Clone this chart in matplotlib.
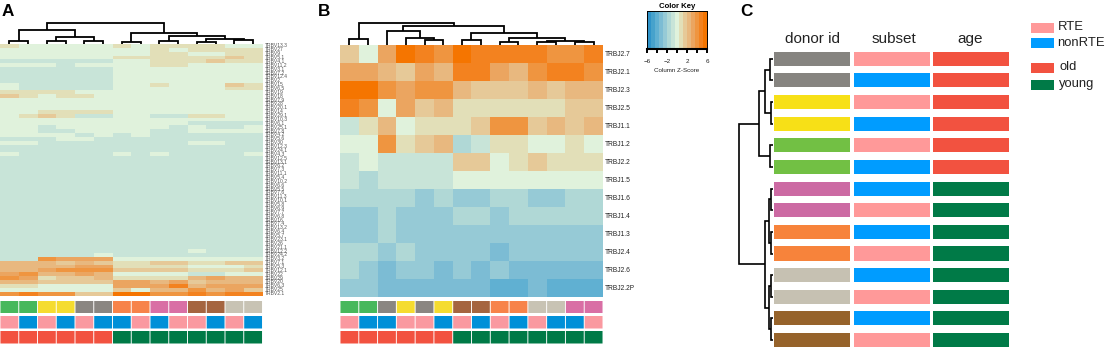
import numpy as np
from matplotlib import pyplot as plt
from matplotlib.colors import ListedColormap
from matplotlib.patches import Rectangle

plt.rcParams['font.family'] = ['Liberation Sans', 'DejaVu Sans']

W, H = 1106, 347

# colour levels of the key, low to high (one level = 0.8 z-score)
key_colors = ['#2f93c9', '#47a2cc', '#60b0d2', '#7cbcd4', '#96cad6', '#b0d8d6', '#c8e4d8', '#e0f2dc',
              '#e2dfb8', '#e6c998', '#e8b87f', '#eba560', '#ef9540', '#f3821f', '#f57500']
key_levels = list(range(-7, 8))
key_ticks = [-6, -4, -2, 0, 2, 4, 6]
key_ticklabels = ['\u22126', '', '\u22122', '', '2', '', '6']

donor_a = ['green', 'green', 'yellow', 'yellow', 'gray', 'gray', 'orange', 'orange', 'magenta', 'magenta', 'brown', 'brown', 'beige', 'beige']
subset_a = ['RTE', 'nonRTE', 'RTE', 'nonRTE', 'RTE', 'nonRTE', 'nonRTE', 'RTE', 'nonRTE', 'RTE', 'RTE', 'nonRTE', 'RTE', 'nonRTE']
donor_b = ['green', 'green', 'gray', 'yellow', 'gray', 'yellow', 'brown', 'brown', 'orange', 'orange', 'beige', 'beige', 'magenta', 'magenta']
subset_b = ['RTE', 'nonRTE', 'nonRTE', 'RTE', 'RTE', 'nonRTE', 'RTE', 'nonRTE', 'RTE', 'nonRTE', 'RTE', 'nonRTE', 'nonRTE', 'RTE']
age_ab = ['old'] * 6 + ['young'] * 8

donor_c = ['gray', 'gray', 'yellow', 'yellow', 'green', 'green', 'magenta', 'magenta', 'orange', 'orange', 'beige', 'beige', 'brown', 'brown']
subset_c = ['RTE', 'nonRTE', 'RTE', 'nonRTE', 'RTE', 'nonRTE', 'nonRTE', 'RTE', 'nonRTE', 'RTE', 'nonRTE', 'RTE', 'nonRTE', 'RTE']
age_c = ['old'] * 6 + ['young'] * 8
columns_c = ['donor id', 'subset', 'age']

donor_colors_ab = {'green': '#47b85c', 'yellow': '#f5dc30', 'gray': '#8a8682', 'orange': '#f7834a',
                   'magenta': '#d96fa5', 'brown': '#a56540', 'beige': '#c8c3b4'}
donor_colors_c = {'green': '#72c044', 'yellow': '#f7e017', 'gray': '#868480', 'orange': '#f7833b',
                  'magenta': '#cc6aa3', 'brown': '#96632b', 'beige': '#c6c1b2'}
subset_colors_ab = {'RTE': '#fa99a0', 'nonRTE': '#0090d8'}
subset_colors_c = {'RTE': '#ff9999', 'nonRTE': '#009cff'}
age_colors = {'old': '#f25240', 'young': '#007a47'}

# panel B
labels_b = ['TRBJ2.7', 'TRBJ2.1', 'TRBJ2.3', 'TRBJ2.5', 'TRBJ1.1', 'TRBJ1.2', 'TRBJ2.2', 'TRBJ1.5',
            'TRBJ1.6', 'TRBJ1.4', 'TRBJ1.3', 'TRBJ2.4', 'TRBJ2.6', 'TRBJ2.2P']
levels_b = [
    [2, 0, 4, 7, 6, 5, 7, 6, 6, 6, 6, 5, 5, 6],
    [4, 4, 3, 2, 4, 3, 6, 6, 4, 3, 5, 6, 6, 5],
    [7, 7, 5, 4, 5, 5, 3, 2, 2, 2, 3, 2, 3, 3],
    [6, 5, 0, 4, 2, 3, 1, 1, 1, 1, 1, 1, 2, 2],
    [-1, 1, 3, 0, 1, 1, 1, 2, 5, 5, 2, 3, 2, 3],
    [0, 0, 5, 1, 2, 3, -2, -1, 1, 1, 0, 0, 1, 0],
    [-1, 0, -1, -1, -1, -1, 2, 2, 0, 1, 2, 1, 1, 1],
    [-1, -2, -1, -1, -1, -1, 0, 0, 0, 0, 0, 0, 0, 0],
    [-2, -2, -2, -2, -3, -2, -3, -3, -2, -2, -3, -3, -2, -2],
    [-3, -3, -2, -3, -3, -3, -2, -2, -3, -2, -2, -2, -2, -2],
    [-3, -3, -2, -3, -3, -3, -3, -3, -3, -3, -3, -3, -3, -3],
    [-2, -2, -3, -2, -3, -3, -3, -3, -4, -3, -3, -3, -3, -3],
    [-2, -3, -4, -3, -3, -4, -3, -4, -3, -4, -4, -4, -4, -4],
    [-3, -3, -4, -4, -4, -4, -4, -4, -5, -5, -4, -5, -5, -5],
]

# panel A
labels_a = ['TRBV13.3', 'TRBV27', 'TRBV9', 'TRBV5.1', 'TRBV4.1', 'TRBV11.2', 'TRBV3.1', 'TRBV7.2', 'TRBV12.4', 'TRBV2',
            'TRBV15', 'TRBV6.5', 'TRBV19', 'TRBV18', 'TRBV7.9', 'TRBV28', 'TRBV20.1', 'TRBV14', 'TRBV29.1', 'TRBV10.3',
            'TRBV6.1', 'TRBV25.1', 'TRBV7.8', 'TRBV4.2', 'TRBV5.6', 'TRBV30', 'TRBV12.3', 'TRBV24.1', 'TRBV4.3', 'TRBV12.5',
            'TRBV13.1', 'TRBV6.2', 'TRBV7.3', 'TRBV11.1', 'TRBV5.4', 'TRBV10.2', 'TRBV6.6', 'TRBV5.5', 'TRBV7.6', 'TRBV11.3',
            'TRBV10.1', 'TRBV5.8', 'TRBV6.9', 'TRBV7.7', 'TRBV6.8', 'TRBV16', 'TRBV7.4', 'TRBV13.2', 'TRBV6.4', 'TRBV5.7',
            'TRBV23.1', 'TRBV26', 'TRBV21.1', 'TRBV12.2', 'TRBV24.2', 'TRBV3.2', 'TRBV7.1', 'TRBV5.3', 'TRBV12.1', 'TRBV22',
            'TRBV29', 'TRBV20', 'TRBV6.3', 'TRBV25', 'TRBV2.1']
levels_a = [
    [1, 0, 0, 0, 0, 0, 1, 0, 1, 1, 1, 1, 0, 0],
    [0, 0, 0, 0, 0, 0, 0, 0, 1, 0, 1, 1, 1, 1],
    [0, 0, 0, 0, 0, 0, 0, 0, 1, 1, 0, 0, 1, 1],
    [0, 0, 0, 0, 0, 0, 1, 1, 1, 1, 1, 1, 2, 1],
    [-1, -1, -1, -1, -1, -1, 0, 0, 1, 1, 1, 2, 1, 1],
    [0, 0, 0, -1, 0, 0, 0, 0, 1, 1, 0, 0, 0, 0],
    [-1, -1, -1, -1, -1, -1, 0, 0, 0, 0, 0, 0, 0, 0],
    [-1, -1, -1, -1, -1, -1, 0, 0, 0, 0, 0, 0, 0, 0],
    [-1, -1, -1, -1, -1, -1, 0, 0, 0, 0, 0, 0, 0, 0],
    [-1, -1, -1, -1, -1, -1, 0, 0, 0, 0, 0, 0, 0, 0],
    [0, -1, -1, -1, -1, -1, 0, 0, 1, 0, 0, 0, 2, 1],
    [0, -1, -1, -1, -1, -1, 0, 0, 0, 0, 0, 0, 1, 1],
    [1, 1, 1, 1, 0, 0, 0, 0, 0, 0, 0, 0, 0, 0],
    [2, 1, 0, 1, 1, 0, 0, 0, 0, 0, 0, 0, 0, 0],
    [0, 0, 0, 0, 0, 0, 0, 0, 0, 0, 0, 0, 0, 0],
    [0, 0, 0, 0, 0, 0, 0, 0, 0, 0, 0, 0, 0, 0],
    [0, 0, 0, 0, 0, 0, 0, 0, 0, 0, 0, 0, 0, 0],
    [0, 0, 1, 1, 1, 1, 0, 0, 0, 0, 0, 0, 0, 0],
    [0, 1, 2, 1, -1, -1, 0, 0, -1, -1, 1, 1, 0, 0],
    [0, 0, 0, 0, 0, 0, 0, 0, 0, 0, 0, 0, 0, 0],
    [0, 0, 0, 0, 0, 0, 0, 0, 0, 0, -1, -1, -1, -1],
    [0, 0, -1, 0, 0, 0, 0, 0, 0, -1, 0, -1, -1, 0],
    [0, 0, -1, -1, 0, 0, 0, 0, -1, -1, 0, 0, 0, 0],
    [0, 0, 0, 0, -1, 0, -1, 0, -1, -1, -1, -1, -1, -1],
    [-1, -1, -1, 0, 0, -1, -1, -1, -1, -1, -1, -1, -1, -1],
    [0, 0, -1, -1, -1, -1, -1, -1, -1, -1, 0, 0, -1, -1],
    [-1, -1, -1, -1, -1, -1, -1, -1, -1, -1, -1, -1, -1, -1],
    [-1, -1, -1, -1, -1, -1, -1, -1, -1, -1, -1, -1, -1, -1],
    [0, -1, -1, -1, -1, -1, 0, -1, 0, -1, -1, -1, -1, 0],
] + [[-1] * 14] * 24 + [
    [-1, -1, -1, -1, -1, -1, -1, -1, -1, -1, 0, -1, -1, -1],
    [-1, -1, -1, -1, -1, 0, -1, -1, -1, -1, -1, -1, -1, -1],
    [-1, -1, 5, 4, 4, 4, 0, 0, 0, 0, 0, 0, 0, 0],
    [3, 3, 3, 2, 3, 2, 1, 1, 2, 2, 1, 1, 2, 2],
    [3, 3, 3, 3, 4, 4, 1, 1, 1, 1, 0, 0, 0, 1],
    [3, 3, 4, 5, 5, 5, 2, 2, 2, 2, 1, 1, 1, 2],
    [4, 5, 3, 3, 4, 3, 0, 0, 0, 0, -1, -1, 0, 0],
    [5, 4, 1, 2, 2, 3, 1, 1, 1, 1, 3, 4, 3, 3],
    [3, 3, 2, 2, 2, 2, 4, 4, 3, 4, 2, 3, 3, 3],
    [1, 1, 0, 0, 0, 0, 4, 4, 4, 6, 3, 4, 4, 4],
    [0, 0, 0, 0, 0, 0, 2, 0, 3, 3, 5, 3, 4, 2],
    [5, 6, 5, 5, 2, 2, 7, 7, 5, 5, 6, 5, 6, 6],
]

# dendrograms as (merge height, left child, right child), leaves are indices
tree_a = (21.3,
          (14, (3.5, 0, 1), (7.5, (3.5, 2, 3), (3.5, 4, 5))),
          (11.5, (2.5, 6, 7), (8.5, (3.5, 8, 9), (5, (2.5, 10, 11), (4, 12, 13)))))
tree_b = (21.7,
          (5.7, 0, 1),
          (19,
           (14.3, 2, (6.7, 3, (5, 4, 5))),
           (11.7, (5, 6, 7), (7.3, (2.7, 8, 9), (4, (3, 10, 11), (3, 12, 13))))))
tree_c = (33.5,
          (13.5, (7.2, (2.5, 0, 1), (2, 2, 3)), (2.5, 4, 5)),
          (7.5,
           (4, (1.5, 6, 7), (1.5, 8, 9)),
           (4, (1.5, 10, 11), (1.5, 12, 13))))


def ax_px(fig, x0, y0, x1, y1):
    # axes from pixel box, y counted from the top
    return fig.add_axes([x0 / W, 1 - y1 / H, (x1 - x0) / W, (y1 - y0) / H])


def draw_tree(ax, node, lw, horizontal=False):
    if not isinstance(node, tuple):
        return node, 0
    h, left, right = node
    p1, h1 = draw_tree(ax, left, lw, horizontal)
    p2, h2 = draw_tree(ax, right, lw, horizontal)
    a = [p1, p1, p2, p2]
    b = [h1, h, h, h2]
    if horizontal:
        a, b = b, a
    ax.plot(a, b, color='black', lw=lw, solid_joinstyle='miter', solid_capstyle='butt', clip_on=False)
    return (p1 + p2) / 2, h


def heatmap(ax, levels):
    z = np.array(levels) * 0.8
    ax.pcolormesh(z, cmap=cmap, vmin=-6, vmax=6, rasterized=True)
    ax.invert_yaxis()
    ax.axis('off')


def annotation(ax, names, colors):
    bars = ax.bar(range(len(names)), 1, width=0.95, color=[colors[n] for n in names])
    for b in bars:
        b.set_snap(False)
    ax.set_xlim(-0.5, len(names) - 0.5)
    ax.set_ylim(0, 1)
    ax.axis('off')


def column_tree(ax, tree, n):
    draw_tree(ax, tree, 1.3)
    ax.set_xlim(-0.5, n - 0.5)
    ax.set_ylim(0, 25)
    ax.axis('off')


cmap = ListedColormap(key_colors)
fig = plt.figure(figsize=(W / 100, H / 100), dpi=100)

# panel A
ax = ax_px(fig, 0, 44, 262.5, 295.5)
heatmap(ax, levels_a)
for i, name in enumerate(labels_a):
    ax.text(14.15, i + 0.5, name, fontsize=3.6, color='#555555', va='center', ha='left', clip_on=False)
column_tree(ax_px(fig, 0, 19, 262.5, 44), tree_a, 14)
annotation(ax_px(fig, 0, 301, 262.5, 313), donor_a, donor_colors_ab)
annotation(ax_px(fig, 0, 316, 262.5, 328.5), subset_a, subset_colors_ab)
annotation(ax_px(fig, 0, 331, 262.5, 343.5), age_ab, age_colors)

# panel B
ax = ax_px(fig, 340, 45, 603, 297)
heatmap(ax, levels_b)
for i, name in enumerate(labels_b):
    ax.text(14.1, i + 0.5, name, fontsize=4.8, color='#222222', va='center', ha='left', clip_on=False)
column_tree(ax_px(fig, 340, 20, 603, 45), tree_b, 14)
annotation(ax_px(fig, 340, 301, 603, 313), donor_b, donor_colors_ab)
annotation(ax_px(fig, 340, 316, 603, 328.5), subset_b, subset_colors_ab)
annotation(ax_px(fig, 340, 331, 603, 343.5), age_ab, age_colors)

# colour key
ax = ax_px(fig, 647, 11, 707, 49)
edges = np.linspace(-6, 6, len(key_levels) + 1)
ax.pcolormesh(edges, [0, 1], [np.array(key_levels) * 0.8], cmap=cmap, vmin=-6, vmax=6)
ax.set_yticks([])
ax.set_xticks(key_ticks)
ax.set_xticklabels(key_ticklabels, fontsize=4.5, color='#222222')
ax.tick_params(axis='x', length=3, width=1.4, pad=4)
for s in ax.spines.values():
    s.set_linewidth(0.7)
ax.spines['bottom'].set_linewidth(1.5)
ax.set_title('Color Key', fontsize=5.6, fontweight='bold', pad=2)
ax.set_xlabel('Column Z-Score', fontsize=4.5, color='#222222', labelpad=3)

# panel C
ax = ax_px(fig, 774, 51.7, 1009.3, 347)
header_x = [0, 1.03, 1.98]
for j, (names, colors) in enumerate([(donor_c, donor_colors_c), (subset_c, subset_colors_c), (age_c, age_colors)]):
    ax.barh(range(len(names)), 0.955, left=j - 0.4775, height=0.65, color=[colors[n] for n in names])
    ax.text(header_x[j], -0.92, columns_c[j], fontsize=11, color='#222222', ha='center', va='center')
ax.set_xlim(-0.4775, 2.4775)
ax.set_ylim(13.32, -0.325)
ax.axis('off')

ax = ax_px(fig, 735, 51.7, 772.5, 347)
draw_tree(ax, tree_c, 1.2, horizontal=True)
ax.set_xlim(37.5, 0)
ax.set_ylim(13.32, -0.325)
ax.axis('off')

# legend of panel C
ax = ax_px(fig, 1031, 18, 1106, 95)
ax.set_xlim(0, 75)
ax.set_ylim(77, 0)
ax.axis('off')
legend_items = [('RTE', subset_colors_c['RTE'], 10), ('nonRTE', subset_colors_c['nonRTE'], 25.5),
                ('old', age_colors['old'], 50), ('young', age_colors['young'], 67)]
for name, color, y in legend_items:
    ax.add_patch(Rectangle((0.3, y - 5), 22.7, 10, color=color, lw=0))
    ax.text(26.5 if name in ('RTE', 'nonRTE') else 28, y - 0.5, name, fontsize=9.4, color='#222222', va='center')

for letter, x, y in [('A', 2, 16), ('B', 318, 16), ('C', 740, 15.5)]:
    fig.text(x / W, 1 - y / H, letter, fontsize=12.3, fontweight='bold', color='black', va='baseline')

plt.savefig('out.png', dpi=100)
